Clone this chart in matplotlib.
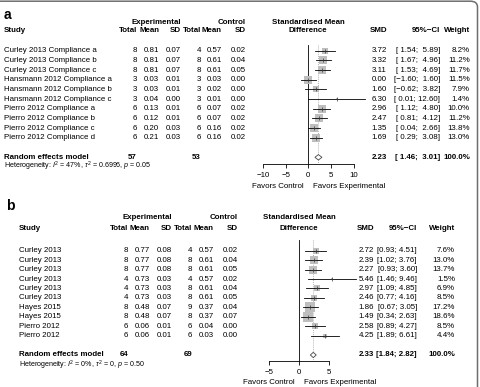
import matplotlib
matplotlib.use("Agg")
import matplotlib.pyplot as plt
from matplotlib.transforms import blended_transform_factory
from matplotlib.patches import Polygon, FancyBboxPatch

plt.rcParams['font.family'] = ['Liberation Sans', 'DejaVu Sans']
plt.rcParams['mathtext.fontset'] = 'custom'
plt.rcParams['mathtext.rm'] = 'Liberation Sans'
plt.rcParams['mathtext.it'] = 'Liberation Sans:italic'
plt.rcParams['mathtext.bf'] = 'Liberation Sans:bold'

# ---------------- data: panel a ----------------
studies_a = ["Curley 2013 Compliance a", "Curley 2013 Compliance b", "Curley 2013 Compliance c",
             "Hansmann 2012 Compliance a", "Hansmann 2012 Compliance b", "Hansmann 2012 Compliance c",
             "Pierro 2012 Compliance a", "Pierro 2012 Compliance b", "Pierro 2012 Compliance c",
             "Pierro 2012 Compliance d"]
exp_total_a = [8, 8, 8, 3, 3, 3, 6, 6, 6, 6]
exp_mean_a = [0.81, 0.81, 0.81, 0.03, 0.03, 0.04, 0.13, 0.12, 0.20, 0.21]
exp_sd_a = [0.07, 0.07, 0.07, 0.01, 0.01, 0.00, 0.01, 0.01, 0.03, 0.03]
ctrl_total_a = [4, 8, 8, 3, 3, 3, 6, 6, 6, 6]
ctrl_mean_a = [0.57, 0.61, 0.61, 0.03, 0.02, 0.01, 0.07, 0.07, 0.16, 0.16]
ctrl_sd_a = [0.02, 0.04, 0.05, 0.00, 0.00, 0.00, 0.02, 0.02, 0.02, 0.02]
smd_a = [3.72, 3.32, 3.11, 0.00, 1.60, 6.30, 2.96, 2.47, 1.35, 1.69]
lo_a = [1.54, 1.67, 1.53, -1.60, -0.62, 0.01, 1.12, 0.81, 0.04, 0.29]
hi_a = [5.89, 4.96, 4.69, 1.60, 3.82, 12.60, 4.80, 4.12, 2.66, 3.08]
weight_a = [8.2, 11.2, 11.7, 11.5, 7.9, 1.4, 10.0, 11.2, 13.8, 13.0]
pooled_a = [2.23, 1.46, 3.01]
totals_a = [57, 53]
het_a = ["47%", "0.6996", "0.05"]
ticks_a = [-10, -5, 0, 5, 10]

# ---------------- data: panel b ----------------
studies_b = ["Curley 2013"] * 6 + ["Hayes 2015"] * 2 + ["Pierro 2012"] * 2
exp_total_b = [8, 8, 8, 4, 4, 4, 8, 8, 6, 6]
exp_mean_b = [0.77, 0.77, 0.77, 0.73, 0.73, 0.73, 0.48, 0.48, 0.06, 0.06]
exp_sd_b = [0.08, 0.08, 0.08, 0.03, 0.03, 0.03, 0.07, 0.07, 0.01, 0.01]
ctrl_total_b = [4, 8, 8, 4, 8, 8, 9, 8, 6, 6]
ctrl_mean_b = [0.57, 0.61, 0.61, 0.57, 0.61, 0.61, 0.37, 0.37, 0.04, 0.03]
ctrl_sd_b = [0.02, 0.04, 0.05, 0.02, 0.04, 0.05, 0.04, 0.07, 0.00, 0.00]
smd_b = [2.72, 2.39, 2.27, 5.46, 2.97, 2.46, 1.86, 1.49, 2.58, 4.25]
lo_b = [0.93, 1.02, 0.93, 1.46, 1.09, 0.77, 0.67, 0.34, 0.89, 1.89]
hi_b = [4.51, 3.76, 3.60, 9.46, 4.85, 4.16, 3.05, 2.63, 4.27, 6.61]
weight_b = [7.6, 13.0, 13.7, 1.5, 6.9, 8.5, 17.2, 18.6, 8.5, 4.4]
pooled_b = [2.33, 1.84, 2.82]
totals_b = [64, 69]
het_b = ["0%", "0", "0.50"]
ticks_b = [-5, 0, 5]

W, H = 481, 387
fig = plt.figure(figsize=(W / 100, H / 100), dpi=100)
FS = 5.7
MINUS = "\u2212"


def X(px):
    return px / W


def Y(py):
    return 1 - py / H


def fmt_ci(lo, hi, pad):
    if pad:
        s = f"[{lo:5.2f}; {hi:5.2f}]"
    else:
        s = f"[{lo:.2f}; {hi:.2f}]"
    return s.replace("-", MINUS)


def panel(label, label_xy, studies, et, em, es, ct, cm, cs, smd, lo, hi, w, pooled, totals, het,
          ticks, geo):
    g = geo
    left, right, zero, scale = g['ax_l'], g['ax_r'], g['zero'], g['scale']
    top, bottom, row0, step = g['ax_t'], g['ax_b'], g['row0'], g['step']
    ax = fig.add_axes([X(left), Y(bottom), (right - left) / W, (bottom - top) / H])
    ax.set_xlim((left - zero) / scale, (right - zero) / scale)
    ax.set_ylim((bottom - row0) / step, (top - row0) / step)
    ax.patch.set_alpha(0)
    for s in ['top', 'left', 'right']:
        ax.spines[s].set_visible(False)
    axis_row = (g['axis_y'] - row0) / step
    ax.spines['bottom'].set_position(('data', axis_row))
    ax.spines['bottom'].set_bounds(ticks[0], ticks[-1])
    ax.spines['bottom'].set_linewidth(0.6)
    ax.set_xticks(ticks)
    ax.set_xticklabels([str(t).replace("-", MINUS) for t in ticks])
    ax.tick_params(axis='x', direction='out', length=3, width=0.6, pad=2.6, labelsize=FS)
    ax.set_yticks([])

    n = len(studies)
    rows = list(range(n))
    re_row = (g['re_y'] - row0) / step
    het_row = (g['het_y'] - row0) / step
    top_row = (g['line_top'] - row0) / step

    ax.plot([0, 0], [top_row, axis_row], color='black', lw=0.6, zorder=1)
    ax.plot([pooled[0], pooled[0]], [top_row, axis_row], color='#9a9a9a', lw=0.6,
            linestyle=(0, (1, 1.5)), zorder=1)

    for i in rows:
        ax.plot(smd[i], i, marker='s', markersize=1.6 * w[i] ** 0.5, color='#bebebe',
                markeredgewidth=0, zorder=2, linestyle='none')
        ax.plot([lo[i], hi[i]], [i, i], color='black', lw=0.6, zorder=3)
        ax.plot(smd[i], i, marker='+', markersize=2.2, color='#333333', markeredgewidth=0.5,
                zorder=4, linestyle='none')

    dh = 0.28
    dia = Polygon([[pooled[1], re_row], [pooled[0], re_row - dh], [pooled[2], re_row],
                   [pooled[0], re_row + dh]], closed=True, facecolor='white',
                  edgecolor='#444444', lw=0.6, zorder=4)
    ax.add_patch(dia)

    tr = blended_transform_factory(fig.transFigure, ax.transData)
    c = g['cols']
    for i in rows:
        ax.text(X(g['study_x']), i, studies[i], transform=tr, ha='left', va='center', fontsize=FS)
        ax.text(X(c[0]), i, f"{et[i]}", transform=tr, ha='right', va='center', fontsize=FS)
        ax.text(X(c[1]), i, f"{em[i]:.2f}", transform=tr, ha='right', va='center', fontsize=FS)
        ax.text(X(c[2]), i, f"{es[i]:.2f}", transform=tr, ha='right', va='center', fontsize=FS)
        ax.text(X(c[3]), i, f"{ct[i]}", transform=tr, ha='right', va='center', fontsize=FS)
        ax.text(X(c[4]), i, f"{cm[i]:.2f}", transform=tr, ha='right', va='center', fontsize=FS)
        ax.text(X(c[5]), i, f"{cs[i]:.2f}", transform=tr, ha='right', va='center', fontsize=FS)
        ax.text(X(g['smd_x']), i, f"{smd[i]:.2f}", transform=tr, ha='right', va='center', fontsize=FS)
        ax.text(X(g['ci_x']), i, fmt_ci(lo[i], hi[i], g['pad']), transform=tr, ha='right',
                va='center', fontsize=FS)
        ax.text(X(g['w_x']), i, f"{w[i]:.1f}%", transform=tr, ha='right', va='center', fontsize=FS)

    ax.text(X(g['study_x']), re_row, "Random effects model", transform=tr, ha='left', va='center',
            fontsize=FS, fontweight='bold')
    ax.text(X(c[0]), re_row, f"{totals[0]}", transform=tr, ha='right', va='center', fontsize=FS,
            fontweight='bold')
    ax.text(X(c[3]), re_row, f"{totals[1]}", transform=tr, ha='right', va='center', fontsize=FS,
            fontweight='bold')
    ax.text(X(g['smd_x']), re_row, f"{pooled[0]:.2f}", transform=tr, ha='right', va='center',
            fontsize=FS, fontweight='bold')
    ax.text(X(g['ci_x']), re_row, fmt_ci(pooled[1], pooled[2], g['pad']), transform=tr,
            ha='right', va='center', fontsize=FS, fontweight='bold')
    ax.text(X(g['w_x']), re_row, "100.0%", transform=tr, ha='right', va='center', fontsize=FS,
            fontweight='bold')
    ax.text(X(g['study_x']), het_row,
            r"Heterogeneity: $I^2$ = " + het[0] + r", $\tau^2$ = " + het[1]
            + r", $p$ = " + het[2],
            transform=tr, ha='left', va='center', fontsize=5.1)

    fig.text(X(label_xy[0]), Y(label_xy[1]), label, fontsize=10, fontweight='bold', ha='left',
             va='center')
    h1, h2 = g['h1'], g['h2']
    fig.text(X(c[2]), Y(h1), "Experimental", ha='right', va='center', fontsize=FS, fontweight='bold')
    fig.text(X(c[5]), Y(h1), "Control", ha='right', va='center', fontsize=FS, fontweight='bold')
    fig.text(X(g['study_x']), Y(h2), "Study", ha='left', va='center', fontsize=FS, fontweight='bold')
    for xx, t in zip(c, ["Total", "Mean", "SD", "Total", "Mean", "SD"]):
        fig.text(X(xx), Y(h2), t, ha='right', va='center', fontsize=FS, fontweight='bold')
    fig.text(X(zero), Y(h1), "Standardised Mean", ha='center', va='center', fontsize=FS,
             fontweight='bold')
    fig.text(X(zero), Y(h2), "Difference", ha='center', va='center', fontsize=FS, fontweight='bold')
    fig.text(X(g['smd_x']), Y(h2), "SMD", ha='right', va='center', fontsize=FS, fontweight='bold')
    fig.text(X(g['ci_x']), Y(h2), "95%" + MINUS + "CI", ha='right', va='center', fontsize=FS,
             fontweight='bold')
    fig.text(X(g['w_x']), Y(h2), "Weight", ha='right', va='center', fontsize=FS, fontweight='bold')

    fig.text(X(zero - 5), Y(g['fav_y']), "Favors Control", ha='right', va='center', fontsize=FS)
    fig.text(X(zero + 5), Y(g['fav_y']), "Favors Experimental", ha='left', va='center', fontsize=FS)


geo_a = dict(ax_l=250, ax_r=392, zero=308.3, scale=4.53, ax_t=38, ax_b=200, row0=50.7, step=9.67,
             axis_y=164.3, re_y=157.3, het_y=166, line_top=45, study_x=4,
             cols=[137, 159, 181, 201, 222, 246], smd_x=387, ci_x=440, w_x=470, pad=True,
             h1=22, h2=31, fav_y=186)
geo_b = dict(ax_l=250, ax_r=392, zero=299.3, scale=6.0, ax_t=235, ax_b=385, row0=250.7, step=9.45,
             axis_y=361, re_y=355, het_y=365, line_top=240, study_x=19,
             cols=[128, 150, 172, 192, 214, 238], smd_x=374, ci_x=417, w_x=455, pad=False,
             h1=217.5, h2=228.5, fav_y=382)

panel("a", (4, 15), studies_a, exp_total_a, exp_mean_a, exp_sd_a, ctrl_total_a, ctrl_mean_a,
      ctrl_sd_a, smd_a, lo_a, hi_a, weight_a, pooled_a, totals_a, het_a, ticks_a, geo_a)
panel("b", (6, 206), studies_b, exp_total_b, exp_mean_b, exp_sd_b, ctrl_total_b, ctrl_mean_b,
      ctrl_sd_b, smd_b, lo_b, hi_b, weight_b, pooled_b, totals_b, het_b, ticks_b, geo_b)

frame = FancyBboxPatch((X(-20), Y(420)), X(497.5), (420 - 1.2) / H,
                       boxstyle="round,pad=0,rounding_size=0.015", transform=fig.transFigure,
                       facecolor='none', edgecolor='#6e6e6e', lw=1.1, clip_on=False)
fig.patches.append(frame)

fig.savefig("out.png", dpi=100)
